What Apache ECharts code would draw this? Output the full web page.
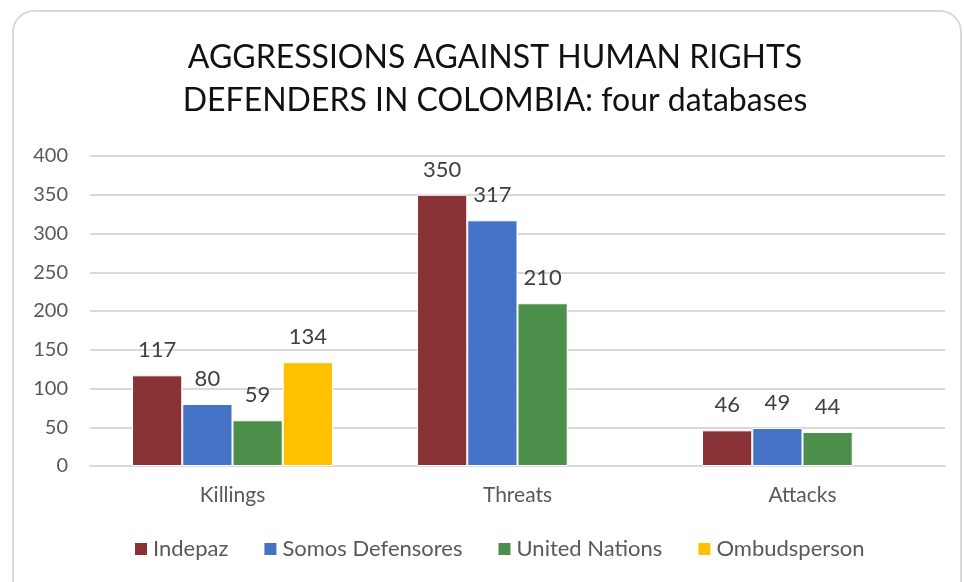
<!DOCTYPE html>
<html>
<head>
<meta charset="utf-8">
<script src="https://cdn.jsdelivr.net/npm/echarts@6/dist/echarts.min.js"></script>
<style>
  html, body { margin: 0; padding: 0; background: #fff; }
  #wrap { position: relative; width: 964px; height: 582px; overflow: hidden; }
  #frame { position: absolute; left: 12px; top: 10px; width: 950px; height: 620px;
           border: 2px solid #d9d9d9; border-radius: 22px; box-sizing: border-box; }
  #chart { position: absolute; left: 0; top: 0; width: 964px; height: 582px; }
</style>
</head>
<body>
<div id="wrap">
  <div id="frame"></div>
  <div id="chart"></div>
</div>
<script>
const categories = ['Killings', 'Threats', 'Attacks'];
const seriesNames = ['Indepaz', 'Somos Defensores', 'United Nations', 'Ombudsperson'];
const indepaz = [117, 350, 46];
const somosDefensores = [80, 317, 49];
const unitedNations = [59, 210, 44];
const ombudsperson = [134, null, null];
const colors = ['#883236', '#4472C4', '#4C8F4B', '#FFC000'];

const FONT = 'Lato';
const values = [indepaz, somosDefensores, unitedNations, ombudsperson];

const chart = echarts.init(document.getElementById('chart'), null, { renderer: 'canvas' });

chart.setOption({
  backgroundColor: 'transparent',
  animation: false,
  color: colors,
  textStyle: { fontFamily: FONT },
  title: {
    text: 'AGGRESSIONS AGAINST HUMAN RIGHTS\nDEFENDERS IN COLOMBIA: four databases',
    // anchor the title's centre line a little right of the page centre
    left: 490,
    textAlign: 'center',
    top: 31,
    textStyle: { fontFamily: FONT, fontSize: 32, fontWeight: 'normal', color: '#111', lineHeight: 43 }
  },
  legend: {
    bottom: 17,
    left: 128,
    itemWidth: 14,
    itemHeight: 14,
    itemGap: 34,
    icon: 'rect',
    textStyle: { fontFamily: FONT, fontSize: 22, color: '#595959' },
    data: seriesNames
  },
  grid: { left: 90, right: 19, top: 156, bottom: 116 },
  xAxis: {
    type: 'category',
    data: categories,
    axisLine: { lineStyle: { color: '#d9d9d9', width: 2 } },
    axisTick: { show: false },
    axisLabel: { fontFamily: FONT, fontSize: 21, color: '#595959', margin: 19 }
  },
  yAxis: {
    type: 'value',
    min: 0,
    max: 400,
    interval: 50,
    axisLine: { show: false },
    axisTick: { show: false },
    axisLabel: { fontFamily: FONT, fontSize: 20, color: '#595959', margin: 22 },
    splitLine: { lineStyle: { color: '#d9d9d9', width: 2 } }
  },
  series: seriesNames.map((name, i) => ({
    name: name,
    type: 'bar',
    data: values[i],
    barGap: '0%',
    barCategoryGap: '29.5%',
    itemStyle: { color: colors[i], borderColor: '#ffffff', borderWidth: 1 },
    label: {
      show: true,
      position: 'top',
      distance: 14,
      fontFamily: FONT,
      fontSize: 22,
      color: '#404040'
    }
  }))
});
</script>
</body>
</html>
